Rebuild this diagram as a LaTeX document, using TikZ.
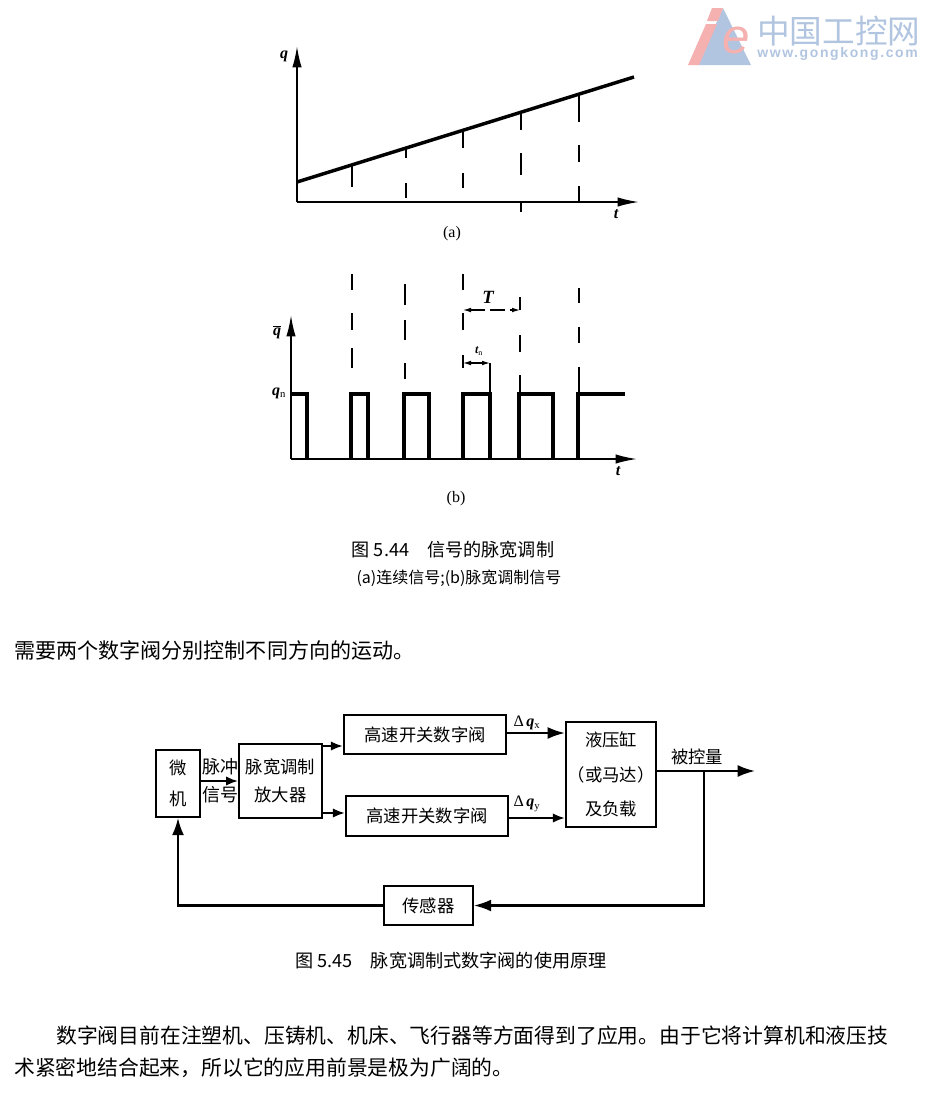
\documentclass[tikz,border=0pt]{standalone}
\usepackage{fontspec}
\setmainfont{Liberation Serif}
\newfontfamily\cjk{Noto Sans CJK SC}
\newfontfamily\lgs{Liberation Sans}
\usetikzlibrary{arrows.meta}
\definecolor{logoblue}{RGB}{178,197,224}
\definecolor{logored}{RGB}{245,176,176}
\newcommand{\segs}[2]{\foreach \a/\b in {#2}{\draw[dashseg] (#1,\a) -- (#1,\b);}}
\tikzset{
 axisline/.style={line width=1.3pt,-{Latex[length=16pt,width=7pt]}},
 thick curve/.style={line width=2.6pt},
 pulse/.style={line width=2.7pt,line join=miter},
 dashseg/.style={line width=1pt},
 blockbox/.style={draw,line width=1.6pt,inner sep=0pt,align=center,font=\cjk\fontsize{13pt}{21pt}\selectfont},
 flow/.style={line width=1.6pt,-{Latex[length=9pt,width=7pt]}},
 bigflow/.style={line width=1.6pt,-{Latex[length=13pt,width=9pt]}},
 lab/.style={inner sep=0pt,font=\cjk\fontsize{13pt}{15pt}\selectfont},
 mathlab/.style={inner sep=0pt,font=\itshape\bfseries\fontsize{12pt}{14pt}\selectfont},
 dim/.style={line width=.8pt,{Latex[length=6pt,width=3.5pt]}-{Latex[length=6pt,width=3.5pt]}},
 rmlab/.style={inner sep=0pt,font=\fontsize{12pt}{14pt}\selectfont}
}
\begin{document}
\begin{tikzpicture}[x=0.75pt,y=-0.75pt]
\useasboundingbox (0,0) rectangle (928,1101);
% logo
\fill[logoblue] (723,8) -- (751,65) -- (697,65) -- cycle;
\fill[white] (712,8) -- (723,8) -- (696,66) -- (685,66) -- cycle;
\fill[logored] (712,8) -- (723,8) -- (718,21) -- (707,21) -- cycle;
\fill[logored] (706,24) -- (717,24) -- (699,65) -- (688,65) -- cycle;
\node[inner sep=0pt,text=logored] (logoe) at (736,40) {\lgs\itshape\fontsize{37pt}{37pt}\selectfont e};
\node[inner sep=0pt,text=logoblue,anchor=west] (logocn) at (757,31) {\cjk\fontsize{24.5pt}{26pt}\selectfont 中国工控网};
\node[inner sep=0pt,text=logoblue,anchor=west] (logourl) at (757,54) {\lgs\addfontfeature{LetterSpace=11.5}\bfseries\fontsize{10.5pt}{11pt}\selectfont www.gongkong.com};
% chart a
\coordinate (ao) at (297,202);
\coordinate (ay) at (297,46);
\coordinate (ax) at (639,202);
\draw[axisline] (ao) -- (ay);
\draw[axisline] (ao) -- (ax);
\draw[thick curve] (297,182) -- (634,77);
\segs{352}{165/187}
\segs{406}{148/158,183/198}
\segs{463}{132/148,173/188}
\segs{521}{113/130,153/175,202/212}
\segs{579}{95/122,145/162,186/202}
\node[mathlab] (aq) at (284,56) {q};
\node[mathlab] (at) at (616,214) {t};
\node[rmlab] (acap) at (452,234) {(a)};
% chart b
\coordinate (bo) at (291,459);
\draw[axisline] (bo) -- (291,315);
\draw[axisline] (bo) -- (637,459);
\draw[pulse] (291,394) -- (307,394) -- (307,459);
\draw[pulse] (351,459) -- (351,394) -- (368,394) -- (368,459);
\draw[pulse] (404,459) -- (404,394) -- (429,394) -- (429,459);
\draw[pulse] (463,459) -- (463,394) -- (490,394) -- (490,459);
\draw[pulse] (519,459) -- (519,394) -- (553,394) -- (553,459);
\draw[pulse] (578,459) -- (578,394) -- (625,394);
\segs{352}{274/290,313/330,348/368}
\segs{405}{284/305,320/340,363/379}
\segs{463}{274/290,313/330,355/368}
\segs{520}{297/310,335/352,375/394}
\segs{579}{288/303,327/343,367/394}
\segs{490}{363/393}
\draw[dim,dash pattern=on 11pt off 4pt] (463,310) -- (520,310);
\draw[dim] (463,363) -- (490,363);
\node[mathlab,font=\itshape\bfseries\fontsize{14pt}{15pt}\selectfont] (bT) at (488,297) {T};
\node[mathlab,font=\itshape\bfseries\fontsize{9pt}{10pt}\selectfont] (btp) at (479,351) {t\textsubscript{\upshape\mdseries n}};
\node[mathlab] (bq) at (277,332) {$\overline{\mbox{\itshape\bfseries q}}$};
\node[mathlab] (bqn) at (279,393) {q\textsubscript{\upshape\mdseries n}};
\node[mathlab] (bt) at (618,471) {t};
\node[rmlab] (bcap) at (456,499) {(b)};
% captions
\node[lab,font=\cjk\fontsize{13.6pt}{15pt}\selectfont] (cap1) at (453,550) {图 5.44\hspace{1em}信号的脉宽调制};
\node[lab,font=\cjk\fontsize{12pt}{14pt}\selectfont] (cap2) at (459,578) {(a)连续信号;(b)脉宽调制信号};
\node[lab,anchor=west,font=\cjk\fontsize{15.8pt}{18pt}\selectfont] (para1) at (14,650) {需要两个数字阀分别控制不同方向的运动。};
% block diagram
\node[blockbox,minimum width=33pt,minimum height=50pt] (mc) at (178,783.5) {微\\[2pt]机};
\node[blockbox,minimum width=62pt,minimum height=55.5pt] (amp) at (280.5,781) {脉宽调制\\放大器};
\node[blockbox,minimum width=121.5pt,minimum height=29pt] (v1) at (425,734.5) {高速开关数字阀};
\node[blockbox,minimum width=121.5pt,minimum height=30pt] (v2) at (427,816) {高速开关数字阀};
\node[blockbox,minimum width=67.5pt,minimum height=79pt,font=\cjk\fontsize{13pt}{26pt}\selectfont] (cyl) at (611,774.5) {液压缸\\（或马达）\\及负载};
\node[blockbox,minimum width=66.5pt,minimum height=29pt] (sens) at (428.5,905.5) {传感器};
\coordinate (a1) at (322,746);
\coordinate (a2) at (322,813);
\coordinate (c1) at (566,733);
\coordinate (c2) at (566,818);
\coordinate (outend) at (755,771);
\coordinate (tap) at (704,771);
\draw[flow] (mc.east |- amp.west) -- (amp.west);
\draw[flow] (amp.east |- a1) -- (v1.west |- a1);
\draw[flow] (amp.east |- a2) -- (v2.west |- a2);
\draw[bigflow] (v1.east |- c1) -- (cyl.west |- c1);
\draw[flow] (v2.east |- c2) -- (cyl.west |- c2);
\draw[bigflow] (cyl.east |- outend) -- (outend);
\draw[bigflow] (tap) |- (sens.east);
\draw[bigflow] (sens.west) -| (mc.south);
\node[lab,font=\cjk\fontsize{13.5pt}{15pt}\selectfont] (pl1) at (220,767) {脉冲};
\node[lab,font=\cjk\fontsize{13.5pt}{15pt}\selectfont] (pl2) at (220,795) {信号};
\node[mathlab] (dqx) at (527,723) {{\upshape\mdseries Δ}\,q\textsubscript{\upshape\mdseries x}};
\node[mathlab] (dqy) at (527,804) {{\upshape\mdseries Δ}\,q\textsubscript{\upshape\mdseries y}};
\node[lab] (outl) at (697,757) {被控量};
% lower text
\node[lab,font=\cjk\fontsize{13.6pt}{15pt}\selectfont] (cap3) at (451,961) {图 5.45\hspace{1em}脉宽调制式数字阀的使用原理};
\node[lab,anchor=west,font=\cjk\fontsize{15.6pt}{18pt}\selectfont] (para2) at (56,1036) {数字阀目前在注塑机、压铸机、机床、飞行器等方面得到了应用。由于它将计算机和液压技};
\node[lab,anchor=west,font=\cjk\fontsize{15.6pt}{18pt}\selectfont] (para3) at (14,1068) {术紧密地结合起来，所以它的应用前景是极为广阔的。};
\end{tikzpicture}
\end{document}
